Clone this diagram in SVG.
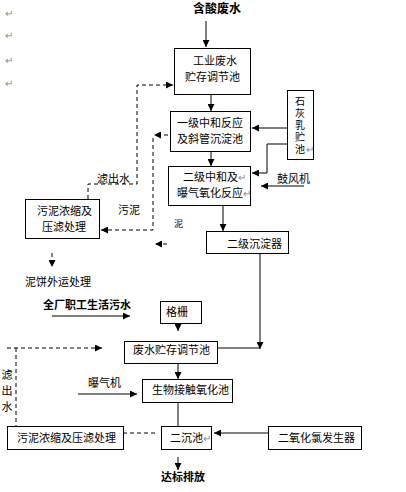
<svg xmlns="http://www.w3.org/2000/svg" width="406" height="492" viewBox="0 0 406 492">
<style>
text{font-family:"Noto Sans CJK SC","Liberation Sans",sans-serif;font-size:11px;fill:#000}
.b{font-weight:bold}
.m{fill:#888;font-size:10px}
.vt{writing-mode:vertical-rl}
.box{fill:#fff;stroke:#000;stroke-width:1}
.ln{fill:none;stroke:#000;stroke-width:1}
.d{fill:none;stroke:#000;stroke-width:1;stroke-dasharray:4 3}
</style>
<defs>
<marker id="a" viewBox="0 0 8 8" refX="8" refY="4" markerWidth="7" markerHeight="7" markerUnits="userSpaceOnUse" orient="auto">
<path d="M0,0L8,4L0,8z" fill="#000"/>
</marker>
</defs>
<rect width="406" height="492" fill="#fff"/>
<g id="marks">
<text class="m" x="5" y="17">↵</text>
<text class="m" x="5" y="39">↵</text>
<text class="m" x="5" y="64">↵</text>
<text class="m" x="5" y="87">↵</text>
</g>
<g id="connectors">
<line class="ln" x1="206" y1="21" x2="206" y2="47" marker-end="url(#a)"/>
<line class="ln" x1="211" y1="95" x2="211" y2="111" marker-end="url(#a)"/>
<line class="ln" x1="287" y1="128" x2="252" y2="128" marker-end="url(#a)"/>
<polyline class="ln" points="287,144 267,144 267,173 252,173" marker-end="url(#a)"/>
<line class="ln" x1="211" y1="151" x2="211" y2="166" marker-end="url(#a)"/>
<line class="ln" x1="304" y1="186" x2="261" y2="186" marker-end="url(#a)"/>
<line class="ln" x1="223" y1="205" x2="223" y2="231" marker-end="url(#a)"/>
<line class="ln" x1="260" y1="253" x2="260" y2="349" marker-end="url(#a)"/>
<line class="ln" x1="203" y1="348" x2="260" y2="348"/>
<polyline class="d" points="88,199 88,184 137,184 137,85 173,85" marker-end="url(#a)"/>
<line class="d" x1="168" y1="135" x2="154" y2="135" marker-end="url(#a)"/>
<polyline class="d" points="153,138 153,230 101,230" marker-end="url(#a)"/>
<line class="d" x1="167" y1="244" x2="155" y2="244" marker-end="url(#a)"/>
<line class="d" x1="52" y1="253" x2="52" y2="267" marker-end="url(#a)"/>
<line class="ln" x1="52" y1="316" x2="130" y2="316" marker-end="url(#a)"/>
<line class="ln" x1="178" y1="314" x2="178" y2="331" marker-end="url(#a)"/>
<line class="d" x1="7" y1="348" x2="102" y2="348" marker-end="url(#a)"/>
<line class="d" x1="16" y1="348" x2="16" y2="426"/>
<line class="ln" x1="178" y1="363" x2="178" y2="379" marker-end="url(#a)"/>
<line class="ln" x1="78" y1="394" x2="137" y2="394" marker-end="url(#a)"/>
<line class="ln" x1="178" y1="402" x2="178" y2="426"/>
<line class="d" x1="123" y1="433" x2="157" y2="433"/>
<line class="ln" x1="268" y1="433" x2="214" y2="433" marker-end="url(#a)"/>
<line class="ln" x1="178" y1="457" x2="178" y2="470" marker-end="url(#a)"/>
</g>
<g id="n-src"><text class="b" x="193" y="13" style="font-size:12px">含酸废水</text></g>
<g id="n-gy">
<rect class="box" x="174.5" y="48.5" width="76" height="46"/>
<text x="193" y="65">工业废水</text>
<text x="185" y="81">贮存调节池</text>
</g>
<g id="n-yj">
<rect class="box" x="170.5" y="111.5" width="80" height="40"/>
<text x="177" y="127">一级中和反应</text>
<text x="177" y="143">及斜管沉淀池</text>
</g>
<g id="n-sh">
<rect class="box" x="287.5" y="90.5" width="26" height="69"/>
<text class="vt" x="300" y="96" style="font-size:10px;letter-spacing:2px">石灰乳贮池</text>
<text class="m" x="306" y="153">↵</text>
</g>
<g id="n-ej">
<rect class="box" x="168.5" y="166.5" width="82" height="39"/>
<text x="183" y="181">二级中和及<tspan class="m">↵</tspan></text>
<text x="177" y="197">曝气氧化反应<tspan class="m">↵</tspan></text>
</g>
<g id="n-gfj"><text x="277" y="183">鼓风机</text></g>
<g id="n-ejcd">
<rect class="box" x="206.5" y="231.5" width="82" height="22"/>
<text x="227" y="248">二级沉淀器</text>
</g>
<g id="n-wn1">
<rect class="box" x="25.5" y="199.5" width="74" height="39"/>
<text x="37" y="215">污泥浓缩及</text>
<text x="42" y="231">压滤处理</text>
</g>
<g id="labels">
<text x="97" y="183">滤出水</text>
<text x="118" y="214">污泥</text>
<text x="174" y="227" style="font-size:9px">泥</text>
<text x="25" y="286">泥饼外运处理</text>
<text x="88" y="387">曝气机</text>
<text class="vt" x="7" y="369" style="letter-spacing:5px">滤出水</text>
</g>
<g id="n-sh2"><text class="b" x="43" y="309">全厂职工生活污水</text></g>
<g id="n-gs">
<rect class="box" x="160.5" y="301.5" width="41" height="22"/>
<text x="166" y="316">格栅</text>
</g>
<g id="n-fs">
<rect class="box" x="124.5" y="341.5" width="93" height="22"/>
<text x="133" y="354">废水贮存调节池</text>
</g>
<g id="n-sw">
<rect class="box" x="142.5" y="379.5" width="90" height="23"/>
<text x="152" y="394">生物接触氧化池</text>
</g>
<g id="n-wn2">
<rect class="box" x="7.5" y="426.5" width="116" height="23"/>
<text x="17" y="442">污泥浓缩及压滤处理</text>
</g>
<g id="n-ec">
<rect class="box" x="161.5" y="426.5" width="50" height="23"/>
<text x="170" y="442">二沉池<tspan class="m">↵</tspan></text>
</g>
<g id="n-clo2">
<rect class="box" x="268.5" y="426.5" width="93" height="23"/>
<text x="278" y="442">二氧化氯发生器</text>
</g>
<g id="n-out"><text class="b" x="161" y="481">达标排放</text></g>
</svg>
